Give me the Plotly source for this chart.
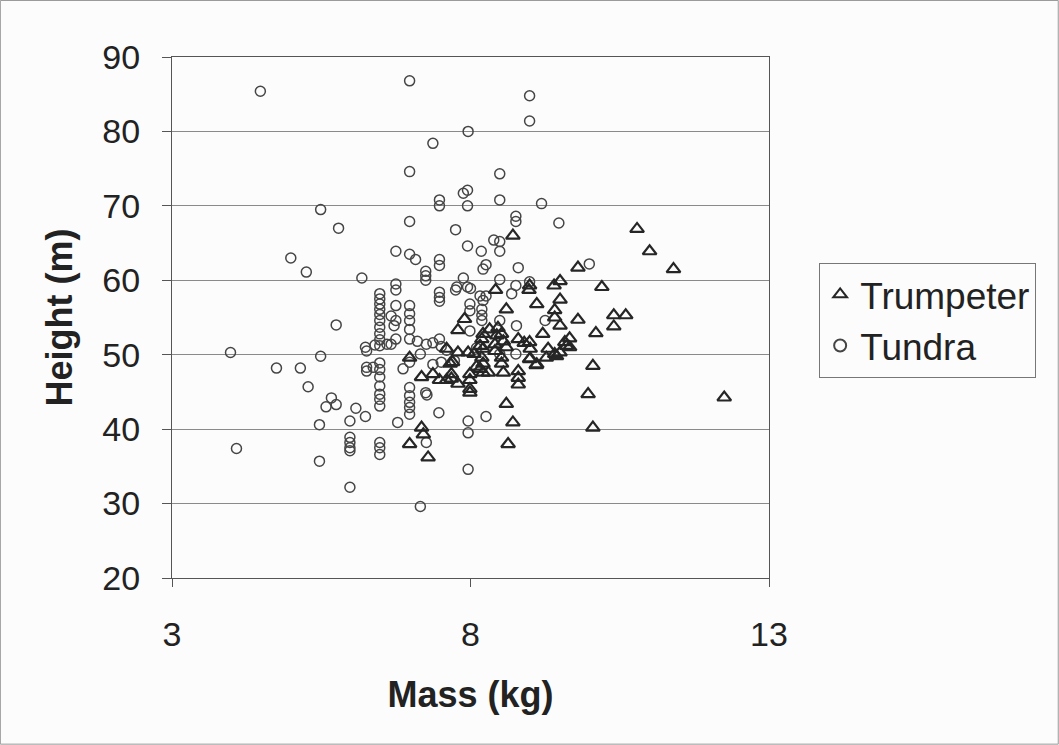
import plotly.graph_objects as go

# ---- data ----
trumpeter_mass = [
    8.71, 10.79, 11.00, 11.40, 9.80, 9.50, 9.40, 8.99, 8.98, 8.42,
    10.20, 9.50, 9.11, 9.41, 9.41, 8.60, 9.80, 10.40, 10.60, 10.40,
    10.10, 7.90, 7.79, 9.50, 9.21, 8.80, 8.99, 9.00, 9.00, 9.10,
    9.30, 9.41, 9.50, 9.58, 9.61, 9.66, 9.66, 8.21, 8.19, 8.16,
    8.44, 8.52, 8.55, 8.41, 8.60, 8.06, 8.21, 8.19, 8.21, 8.16,
    8.21, 8.41, 8.52, 8.52, 8.55, 8.80, 8.80, 8.80, 8.99, 9.11,
    9.27, 9.44, 10.05, 9.97, 8.60, 8.71, 10.05, 8.63, 12.25, 7.18,
    7.21, 6.98, 7.29, 6.98, 7.18, 7.37, 7.48, 7.60, 7.68, 7.79,
    7.68, 7.66, 7.99, 7.99, 8.10, 8.30, 7.99, 7.60, 7.79, 7.96,
    7.99, 7.70, 8.90, 8.32, 8.46,
]
trumpeter_height = [
    66.0, 66.9, 63.9, 61.5, 61.7, 59.9, 59.3, 59.3, 58.7, 58.7,
    59.1, 57.4, 56.8, 56.0, 55.0, 56.1, 54.7, 55.3, 55.3, 53.8,
    52.9, 54.8, 53.3, 53.9, 52.8, 52.1, 51.7, 50.8, 49.5, 48.6,
    50.8, 50.1, 50.3, 51.7, 51.2, 52.2, 51.0, 52.8, 52.1, 51.2,
    52.6, 52.8, 51.8, 51.4, 51.0, 50.1, 50.8, 49.6, 48.8, 48.1,
    47.6, 50.5, 49.6, 48.8, 47.6, 47.8, 46.9, 46.0, 49.4, 48.7,
    49.6, 49.8, 48.5, 44.7, 43.4, 40.9, 40.2, 38.0, 44.25, 40.2,
    39.3, 38.0, 36.2, 49.6, 47.0, 47.4, 46.6, 46.6, 46.8, 46.1,
    47.4, 48.8, 45.4, 47.4, 48.4, 47.6, 46.6, 50.8, 50.3, 50.3,
    44.9, 49.0, 51.6, 53.4, 53.6,
]

tundra_mass = [
    4.48, 6.98, 8.99, 8.99, 7.96, 7.37, 6.98, 8.49, 7.88, 7.95,
    7.48, 7.48, 7.95, 8.49, 9.19, 5.49, 5.79, 6.98, 7.75, 8.76,
    8.76, 9.48, 8.39, 8.49, 7.95, 8.18, 8.49, 4.99, 5.25, 6.18,
    6.75, 6.98, 7.08, 7.48, 7.48, 8.26, 8.21, 8.80, 9.99, 7.25,
    7.25, 7.25, 7.88, 8.49, 7.95, 7.77, 7.75, 8.00, 8.76, 8.99,
    8.69, 8.16, 8.26, 8.21, 6.75, 6.75, 7.48, 7.48, 7.48,
    6.48, 6.48, 6.48, 6.48, 6.48, 6.48, 6.48, 6.48, 6.48, 6.48,
    6.48, 6.48, 6.48, 6.48, 6.48, 6.48, 6.48, 6.48, 6.48, 6.48,
    6.75, 6.67, 6.75, 6.72, 6.75, 6.67, 6.40, 6.24, 6.60,
    6.98, 6.98, 6.98, 6.98, 6.98, 6.98, 6.87, 6.98, 6.98, 6.98, 6.98, 6.98,
    7.11, 7.26, 7.37, 7.51, 7.60, 7.16, 7.51, 7.73, 7.37, 7.48,
    7.99, 7.99, 8.19, 8.19, 8.19, 7.99, 8.49, 8.77, 9.25, 8.49,
    8.76, 8.10,
    7.25, 7.27, 7.47, 7.26, 7.16, 6.78, 7.96, 7.96, 7.96, 8.26,
    3.98, 4.08, 4.75, 5.15, 5.28, 5.49, 5.75, 5.67, 5.58, 5.75,
    5.47, 5.47, 5.98, 6.08, 6.24, 5.98, 5.98, 5.98, 5.98, 5.98,
    6.26, 6.26, 6.26, 6.37,
]
tundra_height = [
    85.4, 86.8, 84.8, 81.4, 80.0, 78.4, 74.6, 74.3, 71.7, 72.1,
    70.8, 70.0, 70.0, 70.8, 70.3, 69.5, 67.0, 67.9, 66.8, 68.6,
    67.9, 67.7, 65.4, 65.2, 64.6, 63.9, 63.9, 63.0, 61.1, 60.3,
    63.9, 63.5, 62.8, 62.8, 62.0, 62.1, 61.5, 61.7, 62.2, 61.2,
    60.6, 60.0, 60.3, 60.1, 59.1, 59.1, 58.7, 58.9, 59.3, 59.8,
    58.2, 57.9, 57.9, 57.3, 59.5, 58.7, 58.4, 57.7, 57.2,
    58.2, 57.5, 56.8, 56.1, 55.4, 54.6, 53.7, 52.8, 52.0, 51.2,
    48.9, 48.0, 47.0, 45.8, 44.7, 44.0, 43.1, 38.2, 37.5, 36.6,
    56.6, 55.2, 54.6, 53.9, 52.1, 51.4, 51.3, 51.0, 51.4,
    56.6, 55.5, 54.6, 53.4, 52.1, 49.0, 48.1, 45.6, 44.5, 43.6, 42.9, 42.0,
    51.8, 51.4, 51.6, 51.1, 50.6, 50.1, 49.0, 49.2, 48.7, 52.1,
    56.8, 55.9, 56.1, 55.3, 54.6, 53.2, 54.6, 53.9, 54.6, 50.1,
    50.1, 50.9,
    44.9, 44.6, 42.2, 38.2, 29.6, 40.9, 41.1, 39.5, 34.6, 41.7,
    50.3, 37.4, 48.2, 48.2, 45.7, 49.8, 54.0, 44.2, 43.0, 43.3,
    40.6, 35.7, 41.1, 42.8, 41.7, 38.9, 38.2, 37.5, 37.1, 32.2,
    50.5, 48.3, 47.8, 48.3,
]

x_ticks = [3, 8, 13]
y_ticks = [20, 30, 40, 50, 60, 70, 80, 90]

FONT = "Arial, 'Liberation Sans', sans-serif"

fig = go.Figure()
fig.add_trace(go.Scatter(
    x=tundra_mass, y=tundra_height, mode="markers", name="Tundra",
    legendrank=2,
    marker=dict(symbol="circle-open", size=10, color="#454545",
                line=dict(width=1.5, color="#454545")),
))
fig.add_trace(go.Scatter(
    x=trumpeter_mass, y=trumpeter_height, mode="markers", name="Trumpeter",
    legendrank=1,
    marker=dict(symbol="triangle-up-open", size=12, color="#262626",
                line=dict(width=2.2, color="#262626")),
))

fig.update_layout(
    width=1059, height=745,
    margin=dict(l=172, r=290, t=57, b=167, pad=0),
    paper_bgcolor="#fcfcfc", plot_bgcolor="#fcfcfc",
    font=dict(family=FONT, color="#222222"),
    showlegend=True,
    legend=dict(
        x=1.084, y=0.605, xanchor="left", yanchor="top",
        bordercolor="#777777", borderwidth=1, bgcolor="#fcfcfc",
        font=dict(size=37, family=FONT, color="#222222"),
        itemsizing="constant",
    ),
    xaxis=dict(
        range=[3, 13], tickvals=x_ticks, showgrid=False, zeroline=False,
        showline=True, mirror=True, linecolor="#555555", linewidth=1,
        ticks="outside", ticklen=8, tickcolor="#555555",
        tickfont=dict(size=34, family=FONT, color="#222222"),
        ticklabelstandoff=18,
        title=dict(text="<b>Mass (kg)</b>", font=dict(size=36, family=FONT, color="#222222"),
                   standoff=30),
    ),
    yaxis=dict(
        range=[20, 90], tickvals=y_ticks, showgrid=True, gridcolor="#8a8a8a",
        gridwidth=1, zeroline=False,
        showline=True, mirror=True, linecolor="#555555", linewidth=1,
        ticks="outside", ticklen=9, tickcolor="#555555",
        tickfont=dict(size=34, family=FONT, color="#222222"),
        ticklabelstandoff=15,
        title=dict(text="<b>Height (m)</b>", font=dict(size=36, family=FONT, color="#222222"),
                   standoff=18),
    ),
)

# thin frame around the whole chart area
fig.add_shape(type="rect", xref="paper", yref="paper",
              x0=-0.2875, x1=1.4845, y0=-0.3189, y1=1.1085,
              line=dict(color="#999999", width=1), layer="below")

fig.write_html("out.html")
